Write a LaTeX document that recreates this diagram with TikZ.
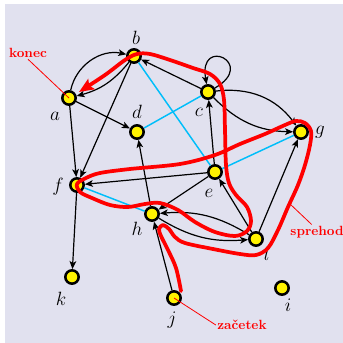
\documentclass[tikz,border=0pt]{standalone}
\usetikzlibrary{arrows.meta}
\definecolor{bgc}{RGB}{225,225,239}
\definecolor{cy}{RGB}{0,190,250}
\begin{document}
\begin{tikzpicture}[x=0.75pt,y=0.75pt,
  vtx/.style={circle,draw=black,fill=yellow,line width=1.9pt,minimum size=10pt,inner sep=0pt},
  lab/.style={font=\fontsize{14.4}{17}\selectfont,inner sep=0pt},
  arr/.style={line width=0.9pt,-{Stealth[length=6pt,width=5pt,inset=1.5pt]}},
  und/.style={cy,line width=1.1pt},
  walk/.style={red,line width=2.8pt,line cap=round,line join=round},
  note/.style={red,font=\fontsize{10}{12}\selectfont\bfseries,inner sep=1pt},
  ptr/.style={red,line width=0.6pt}]
\useasboundingbox (0,0) rectangle (343,-343);
\fill[bgc] (5,-4) rectangle (343,-343);

% vertices
\node[vtx] (a) at (69,-98) {};
\node[vtx] (b) at (134,-56) {};
\node[vtx] (c) at (208,-92) {};
\node[vtx] (d) at (137,-132) {};
\node[vtx] (e) at (215,-172) {};
\node[vtx] (f) at (77,-185) {};
\node[vtx] (g) at (301,-132) {};
\node[vtx] (h) at (152,-214) {};
\node[vtx] (i) at (282,-288) {};
\node[vtx] (j) at (174,-298) {};
\node[vtx] (k) at (72,-277) {};
\node[vtx] (l) at (256,-239) {};

% labels
\node[lab] (la) at (55,-116) {$a$};
\node[lab] (lb) at (136,-38) {$b$};
\node[lab] (lc) at (199,-112) {$c$};
\node[lab] (ld) at (137,-112) {$d$};
\node[lab] (le) at (209,-193) {$e$};
\node[lab] (lf) at (58,-187) {$f$};
\node[lab] (lg) at (320,-132) {$g$};
\node[lab] (lh) at (137,-229) {$h$};
\node[lab] (li) at (288,-305) {$i$};
\node[lab] (lj) at (172,-320) {$j$};
\node[lab] (lk) at (61,-299) {$k$};
\node[lab] (ll) at (267,-254) {$l$};

% undirected (cyan)
\draw[und] (b) -- (e);
\draw[und] (d) -- (c);
\draw[und] (f) -- (h);
\draw[und] (e) -- (g);

% directed
\draw[arr] (a) to[bend left=45] (b);
\draw[arr] (b) to[bend left=18] (a);
\draw[arr] (a) -- (d);
\draw[arr] (a) -- (f);
\draw[arr] (b) -- (f);
\draw[arr] (c) -- (b);
\draw[arr] (c) to[out=30,in=100,min distance=37pt] (c);
\draw[arr] (c) to[bend left=30] (g);
\draw[arr] (c) to[bend right=22] (g);
\draw[arr] (e) -- (c);
\draw[arr] (h) -- (d);
\draw[arr] (e) -- (f);
\draw[arr] (e) -- (h);
\draw[arr] (l) -- (e);
\draw[arr] (l) -- (g);
\draw[arr] (l) to[bend right=18] (h);
\draw[arr] (h) to[bend right=18] (l);
\draw[arr] (j) -- (h);
\draw[arr] (f) -- (k);

% the walk
\draw[walk,-{Stealth[length=11pt,width=9pt,inset=2pt]}] plot[smooth,tension=0.55] coordinates {
(181,-291) (176,-268) (168,-250) (161,-236) (159,-229) (163,-225) (169,-229) (175,-237)
(185,-243) (213,-249) (240,-254) (256,-255) (268,-248) (278,-230) (288,-207) (298,-185)
(305,-165) (310,-145) (311,-131) (305,-123) (296,-121) (285,-125) (265,-134) (240,-144)
(215,-155) (180,-164) (130,-169) (100,-173) (86,-178) (77,-184) (80,-192) (92,-198)
(110,-205) (128,-207) (145,-204) (160,-203) (178,-210) (195,-222) (215,-232) (235,-236)
(247,-231) (251,-221) (247,-207) (236,-195) (229,-183) (226,-165) (225,-130) (224,-100)
(220,-84) (210,-74) (193,-68) (170,-60) (150,-54) (137,-54) (125,-60) (105,-75) (79,-92)};

% notes
\node[note] (konec) at (28,-53) {konec};
\node[note] (sprehod) at (317,-232) {sprehod};
\node[note] (zacetek) at (242,-325) {začetek};
\coordinate (sp) at (289,-203);
\draw[ptr] (konec.south) -- (a.center);
\draw[ptr] (sp) -- ([xshift=-4pt]sprehod.north);
\draw[ptr] (j.center) -- (zacetek.west);
\end{tikzpicture}
\end{document}
